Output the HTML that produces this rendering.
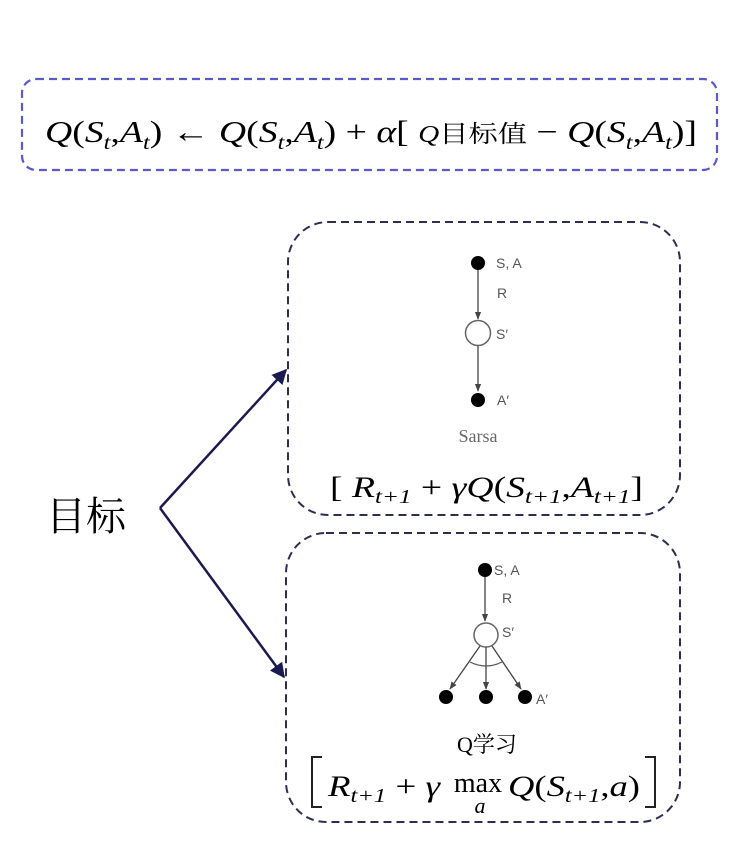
<!DOCTYPE html>
<html><head><meta charset="utf-8">
<style>
html,body{margin:0;padding:0;background:#fff;}
svg{display:block;}
.m{font-family:"Liberation Serif","Noto Serif CJK SC",serif;font-style:italic;}
.r{font-family:"Liberation Serif","Noto Serif CJK SC",serif;font-style:normal;}
.g{font-family:"Liberation Sans",sans-serif;fill:#555;font-size:14px;}
</style></head>
<body>
<svg width="743" height="849" viewBox="0 0 743 849" xmlns="http://www.w3.org/2000/svg">
<defs>
<marker id="ah" viewBox="0 0 10 10" refX="9" refY="5" markerWidth="6" markerHeight="6" orient="auto"><path d="M0,0 L10,5 L0,10 z" fill="#1a1a50"/></marker>
<marker id="sa" viewBox="0 0 10 10" refX="9" refY="5" markerWidth="6" markerHeight="6" orient="auto"><path d="M0,1 L10,5 L0,9 z" fill="#444"/></marker>
</defs>
<rect x="22" y="79" width="695" height="91" rx="14" fill="none" stroke="#5a5ac8" stroke-width="2.2" stroke-dasharray="8,5"/>
<text x="45" y="142" font-size="31" class="m" textLength="652" lengthAdjust="spacingAndGlyphs">Q<tspan class="r">(</tspan>S<tspan font-size="20" dy="7">t</tspan><tspan dy="-7" class="r">,</tspan>A<tspan font-size="20" dy="7">t</tspan><tspan dy="-7" class="r">) ← </tspan>Q<tspan class="r">(</tspan>S<tspan font-size="20" dy="7">t</tspan><tspan dy="-7" class="r">,</tspan>A<tspan font-size="20" dy="7">t</tspan><tspan dy="-7" class="r">) + </tspan>α<tspan class="r">[  </tspan><tspan font-size="24">Q</tspan><tspan class="r" font-size="24" font-family="Noto Sans CJK SC">目标值</tspan><tspan class="r">  − </tspan>Q<tspan class="r">(</tspan>S<tspan font-size="20" dy="7">t</tspan><tspan dy="-7" class="r">,</tspan>A<tspan font-size="20" dy="7">t</tspan><tspan dy="-7" class="r">)]</tspan></text>

<text x="46" y="530" font-size="40" font-family="Noto Serif CJK SC,serif">目标</text>
<line x1="160" y1="508" x2="286" y2="370" stroke="#1a1a50" stroke-width="2.5" marker-end="url(#ah)"/>
<line x1="160" y1="508" x2="284" y2="677" stroke="#1a1a50" stroke-width="2.5" marker-end="url(#ah)"/>

<rect x="288" y="222" width="392" height="293" rx="40" fill="none" stroke="#2e2e50" stroke-width="2" stroke-dasharray="8,5"/>
<circle cx="478" cy="263" r="7" fill="#000"/>
<text x="496" y="268" class="g">S, A</text>
<line x1="478" y1="270" x2="478" y2="319" stroke="#444" stroke-width="1.3" marker-end="url(#sa)"/>
<text x="497" y="298" class="g">R</text>
<circle cx="478" cy="333" r="12.5" fill="#fff" stroke="#666" stroke-width="1.5"/>
<text x="496" y="339" class="g">S′</text>
<line x1="478" y1="346" x2="478" y2="391" stroke="#444" stroke-width="1.3" marker-end="url(#sa)"/>
<circle cx="478" cy="400" r="7" fill="#000"/>
<text x="497" y="405" class="g">A′</text>
<text x="478" y="442" font-size="18" fill="#666" text-anchor="middle" class="r">Sarsa</text>
<text x="330" y="497" font-size="30" class="m" textLength="313" lengthAdjust="spacingAndGlyphs"><tspan class="r">[ </tspan>R<tspan font-size="20" dy="6">t+1</tspan><tspan dy="-6" class="r"> + </tspan>γQ<tspan class="r">(</tspan>S<tspan font-size="20" dy="6">t+1</tspan><tspan dy="-6" class="r">,</tspan>A<tspan font-size="20" dy="6">t+1</tspan><tspan dy="-6" class="r">]</tspan></text>

<rect x="286" y="533" width="394" height="289" rx="40" fill="none" stroke="#2e2e50" stroke-width="2" stroke-dasharray="8,5"/>
<circle cx="485" cy="570" r="7" fill="#000"/>
<text x="494" y="575" class="g">S, A</text>
<line x1="485" y1="577" x2="485" y2="621" stroke="#444" stroke-width="1.3" marker-end="url(#sa)"/>
<text x="502" y="603" class="g">R</text>
<circle cx="486" cy="635" r="12" fill="#fff" stroke="#666" stroke-width="1.5"/>
<text x="502" y="637" class="g">S′</text>
<line x1="480" y1="646" x2="450" y2="689" stroke="#444" stroke-width="1.3" marker-end="url(#sa)"/>
<line x1="486" y1="647" x2="486" y2="689" stroke="#444" stroke-width="1.3" marker-end="url(#sa)"/>
<line x1="492" y1="646" x2="521" y2="689" stroke="#444" stroke-width="1.3" marker-end="url(#sa)"/>
<path d="M470,662 Q486,670 502,662" fill="none" stroke="#555" stroke-width="1.2"/>
<circle cx="446" cy="697" r="7" fill="#000"/>
<circle cx="486" cy="697" r="7" fill="#000"/>
<circle cx="525" cy="697" r="7" fill="#000"/>
<text x="536" y="704" class="g">A′</text>
<text x="487" y="752" font-size="22" text-anchor="middle" fill="#000" font-family="Liberation Serif, Noto Serif CJK SC, serif">Q学习</text>
<path d="M322,757 L312,757 L312,807 L322,807" fill="none" stroke="#222" stroke-width="2"/>
<path d="M645,757 L655,757 L655,807 L645,807" fill="none" stroke="#222" stroke-width="2"/>
<text x="328" y="796" font-size="30" class="m" textLength="112" lengthAdjust="spacingAndGlyphs">R<tspan font-size="20" dy="6">t+1</tspan><tspan dy="-6" class="r"> + </tspan>γ</text>
<text x="478" y="792" font-size="28" class="r" text-anchor="middle">max</text>
<text x="480" y="813" font-size="22" class="m" text-anchor="middle">a</text>
<text x="508" y="796" font-size="30" class="m" textLength="132" lengthAdjust="spacingAndGlyphs">Q<tspan class="r">(</tspan>S<tspan font-size="20" dy="6">t+1</tspan><tspan dy="-6" class="r">,</tspan>a<tspan class="r">)</tspan></text>
</svg>
</body></html>
